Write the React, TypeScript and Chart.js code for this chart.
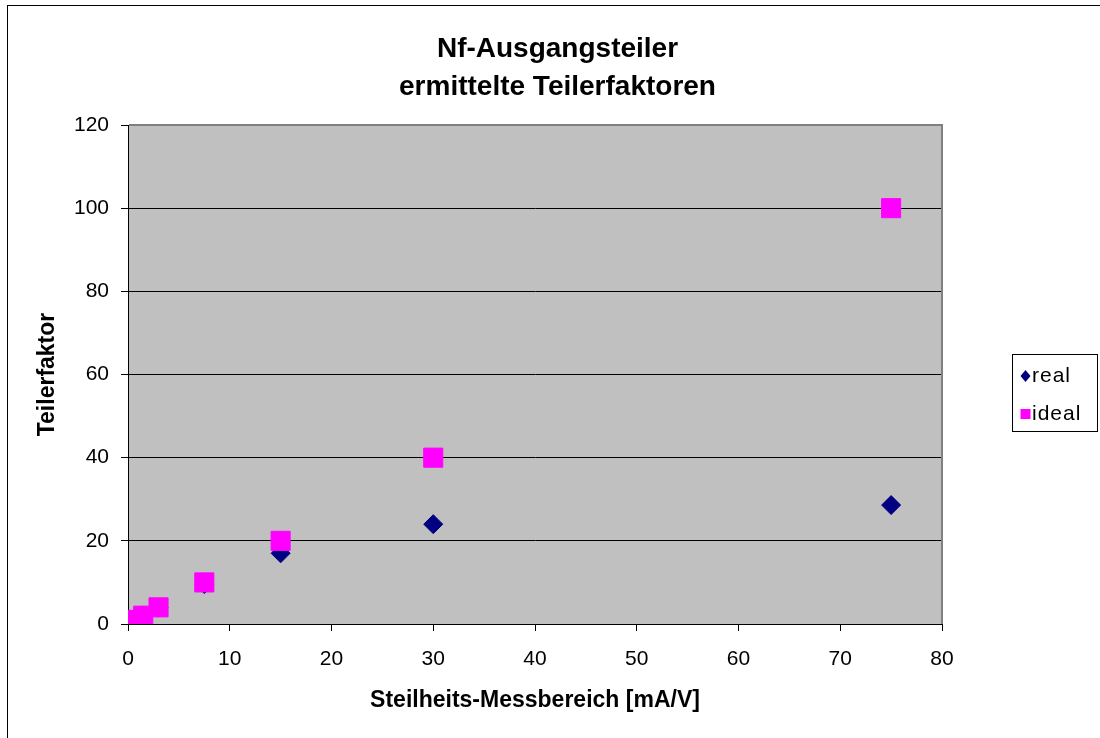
import React, { useEffect, useRef } from "react";
import { Chart, registerables } from "chart.js";

Chart.register(...registerables);

const rangeValues = [0.75, 1.5, 3, 7.5, 15, 30, 75];
const realFactors = [1, 2, 4, 9.6, 17, 24, 28.6];
const idealFactors = [1, 2, 4, 10, 20, 40, 100];
const seriesLabels = ["real", "ideal"];
const seriesColors = ["#000080", "#FF00FF"];
const titleLines = ["Nf-Ausgangsteiler", "ermittelte Teilerfaktoren"];
const xAxisTitle = "Steilheits-Messbereich [mA/V]";
const yAxisTitle = "Teilerfaktor";

const FONT = "'Liberation Sans', Arial, Helvetica, sans-serif";

const frame = {
  id: "frame",
  beforeDraw(chart: any) {
    const { ctx, chartArea } = chart;
    ctx.save();
    ctx.fillStyle = "#ffffff";
    ctx.fillRect(0, 0, chart.width, chart.height);
    ctx.strokeStyle = "#000000";
    ctx.lineWidth = 1;
    ctx.strokeRect(7.5, 5.5, 3000, 3000);
    ctx.fillStyle = "#C0C0C0";
    ctx.fillRect(chartArea.left, chartArea.top, chartArea.right - chartArea.left, chartArea.bottom - chartArea.top);
    ctx.restore();
  },
  beforeDatasetsDraw(chart: any) {
    const { ctx, chartArea } = chart;
    ctx.save();
    ctx.strokeStyle = "#808080";
    ctx.lineWidth = 2;
    ctx.beginPath();
    ctx.moveTo(chartArea.left + 1, chartArea.top);
    ctx.lineTo(chartArea.right, chartArea.top);
    ctx.lineTo(chartArea.right, chartArea.bottom);
    ctx.stroke();
    ctx.restore();
  },
};

const boxLegend = {
  id: "boxLegend",
  afterDraw(chart: any) {
    const { ctx } = chart;
    ctx.save();
    ctx.fillStyle = "#ffffff";
    ctx.fillRect(1012.5, 354.5, 85, 77);
    ctx.strokeStyle = "#000000";
    ctx.lineWidth = 1;
    ctx.strokeRect(1012.5, 354.5, 85, 77);
    chart.data.datasets.forEach((ds: any, i: number) => {
      const cx = 1025.5;
      const cy = 376 + i * 38;
      ctx.fillStyle = ds.backgroundColor;
      ctx.beginPath();
      if (ds.pointStyle === "rectRot") {
        ctx.moveTo(cx - 5, cy);
        ctx.lineTo(cx, cy - 6);
        ctx.lineTo(cx + 5, cy);
        ctx.lineTo(cx, cy + 6);
        ctx.closePath();
      } else {
        ctx.rect(cx - 5, cy - 5, 10, 10);
      }
      ctx.fill();
      ctx.fillStyle = "#000000";
      ctx.font = `21px ${FONT}`;
      (ctx as any).letterSpacing = "1px";
      ctx.textBaseline = "middle";
      ctx.textAlign = "left";
      ctx.fillText(ds.label, 1032, cy);
      (ctx as any).letterSpacing = "0px";
    });
    ctx.restore();
  },
};

export default function App() {
  const ref = useRef<HTMLCanvasElement | null>(null);

  useEffect(() => {
    if (!ref.current) return;
    Chart.defaults.font.family = FONT;
    Chart.defaults.color = "#000000";
    const chart = new Chart(ref.current, {
      type: "scatter",
      data: {
        datasets: [
          {
            label: seriesLabels[0],
            data: rangeValues.map((x, i) => ({ x, y: realFactors[i] })),
            pointStyle: "rectRot",
            pointRadius: 9.5,
            pointHoverRadius: 9.5,
            backgroundColor: seriesColors[0],
            borderColor: seriesColors[0],
            borderWidth: 1,
            order: 2,
          },
          {
            label: seriesLabels[1],
            data: rangeValues.map((x, i) => ({ x, y: idealFactors[i] })),
            pointStyle: "rect",
            pointRadius: 13.5,
            pointHoverRadius: 13.5,
            backgroundColor: seriesColors[1],
            borderColor: seriesColors[1],
            borderWidth: 1,
            order: 1,
          },
        ],
      },
      options: {
        responsive: false,
        animation: false,
        layout: { padding: { left: 15, right: 0, top: 0, bottom: 0 } },
        plugins: {
          legend: { display: false },
          tooltip: { enabled: false },
          title: {
            display: true,
            text: titleLines,
            color: "#000000",
            font: { size: 28, weight: "bold", lineHeight: 38 / 28 },
            padding: { top: 30, bottom: 19 },
          },
        },
        scales: {
          x: {
            type: "linear",
            position: "bottom",
            min: 0,
            max: 80,
            afterFit: (s: any) => {
              s.height = 114;
            },
            ticks: { stepSize: 10, font: { size: 21 }, color: "#000000", padding: 16, maxRotation: 0 },
            grid: { drawOnChartArea: false, drawTicks: true, tickLength: 7, color: "#000000" },
            border: { display: true, color: "#000000", width: 1 },
            title: {
              display: true,
              text: xAxisTitle,
              color: "#000000",
              font: { size: 23, weight: "bold", lineHeight: 1.2 },
              padding: { top: 0, bottom: 24 },
            },
          },
          y: {
            type: "linear",
            position: "left",
            min: 0,
            max: 120,
            afterFit: (s: any) => {
              s.width = 113;
            },
            ticks: { stepSize: 20, font: { size: 21 }, color: "#000000", padding: 12 },
            grid: { drawOnChartArea: true, drawTicks: true, tickLength: 7, color: "#000000", lineWidth: 1 },
            border: { display: true, color: "#000000", width: 1 },
            title: {
              display: true,
              text: yAxisTitle,
              color: "#000000",
              font: { size: 23, weight: "bold", lineHeight: 1.2 },
              padding: { top: 19, bottom: 0 },
            },
          },
          yRight: {
            type: "linear",
            position: "right",
            display: true,
            afterFit: (s: any) => {
              s.width = 158;
            },
            ticks: { display: false },
            grid: { display: false, drawTicks: false },
            border: { display: false },
          },
        },
      },
      plugins: [frame, boxLegend],
    } as any);
    return () => chart.destroy();
  }, []);

  return (
    <div style={{ position: "fixed", left: 0, top: 0, width: 1100, height: 738 }}>
      <canvas ref={ref} width={1100} height={738} style={{ width: 1100, height: 738, display: "block" }} />
    </div>
  );
}
